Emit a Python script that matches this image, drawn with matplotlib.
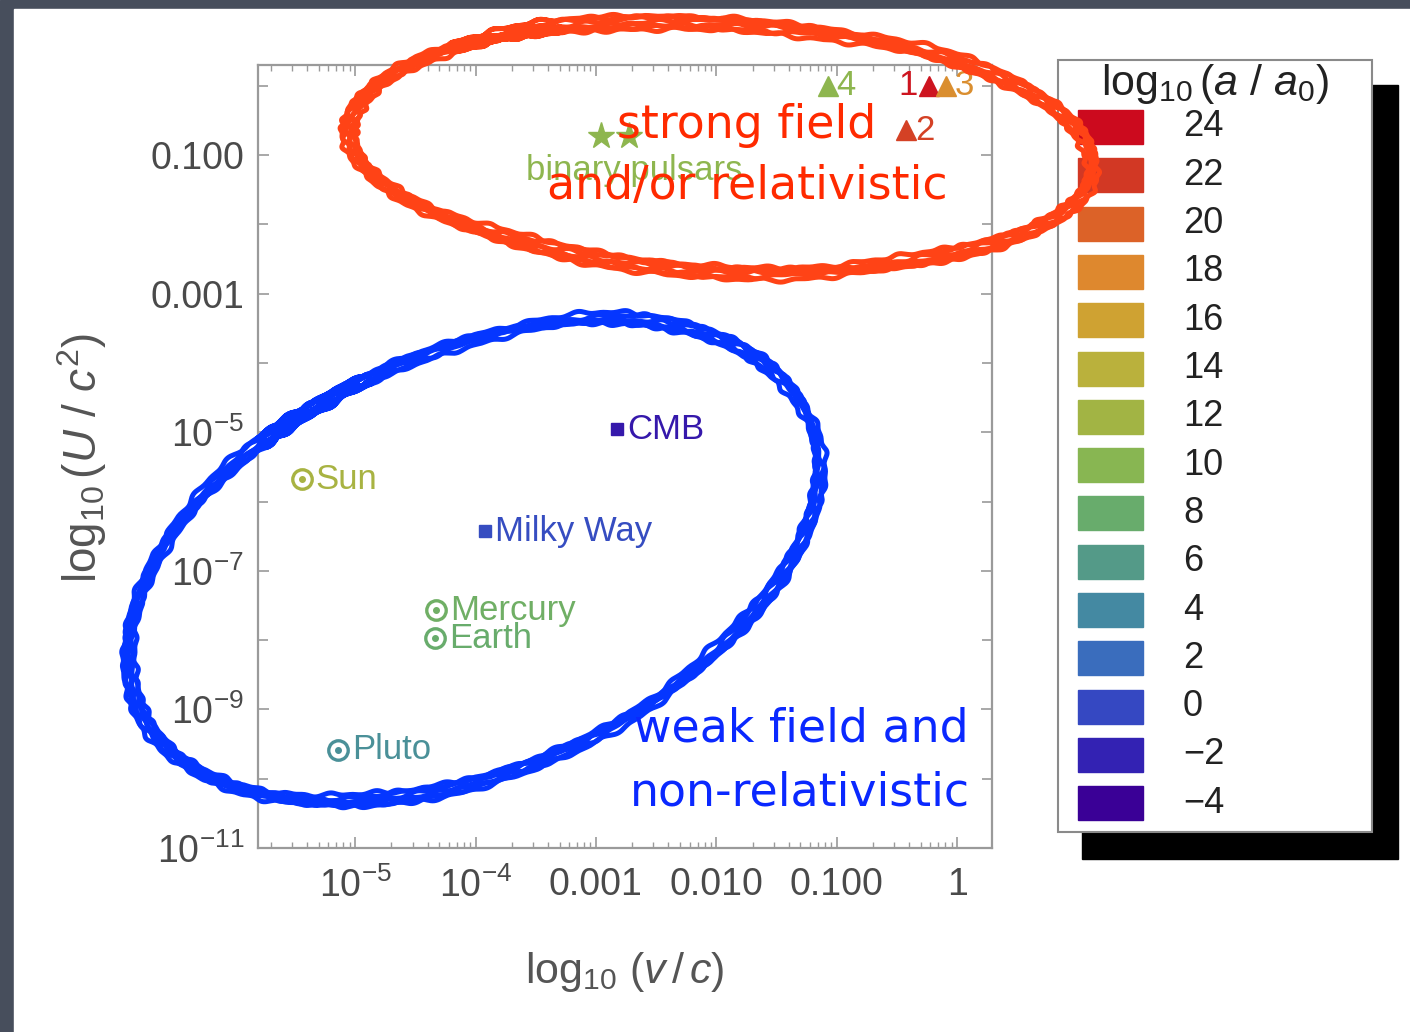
import numpy as np
import matplotlib
matplotlib.use("Agg")
import matplotlib.pyplot as plt
from matplotlib.colors import LinearSegmentedColormap, Normalize
from matplotlib.patches import Rectangle
from matplotlib.ticker import FixedLocator, LogLocator, NullFormatter

plt.rcParams['font.family'] = ['Liberation Sans', 'DejaVu Sans']
plt.rcParams['mathtext.fontset'] = 'custom'
plt.rcParams['mathtext.rm'] = 'Liberation Sans'
plt.rcParams['mathtext.it'] = 'Liberation Sans:italic'
plt.rcParams['mathtext.bf'] = 'Liberation Sans:bold'

W, H = 1410, 1032

# colour key: log10(a/a0)
key_levels = [24, 22, 20, 18, 16, 14, 12, 10, 8, 6, 4, 2, 0, -2, -4]
key_colors = ['#cc0a1e', '#d23824', '#dc6228', '#de882e', '#cfa232',
              '#bab13c', '#a2b444', '#88b652', '#68ac6c', '#549a88',
              '#4489a2', '#3a6dbd', '#3548c2', '#3322b3', '#3a0096']

# solar system bodies (circle-dot markers)
body_names = ['Sun', 'Mercury', 'Earth', 'Pluto']
body_v = [3.6e-6, 4.7e-5, 4.6e-5, 7.2e-6]
body_U = [2.1e-6, 2.7e-8, 1.07e-8, 2.6e-10]
body_loga = [12.5, 8.5, 8.0, 4.8]

# galaxy and cosmology (squares)
big_names = ['Milky Way', 'CMB']
big_v = [1.2e-4, 1.5e-3]
big_U = [3.7e-7, 1.1e-5]
big_loga = [0.3, -2.5]

# binary pulsars (stars)
pulsar_v = [1.1e-3, 1.9e-3]
pulsar_U = [0.19, 0.19]
pulsar_loga = [10.5, 10.5]

# numbered strong-field systems (triangles)
tri_labels = ['1', '2', '3', '4']
tri_v = [0.58, 0.38, 0.81, 0.084]
tri_U = [1.0, 0.23, 1.0, 1.0]
tri_loga = [23.5, 21.5, 17.5, 10.5]
tri_side = ['left', 'right', 'right', 'right']

x_ticks = [1e-5, 1e-4, 1e-3, 1e-2, 1e-1, 1]
x_ticklabels = [r'$10^{-5}$', r'$10^{-4}$', '0.001', '0.010', '0.100', '1']
y_ticks = [1e-11, 1e-9, 1e-7, 1e-5, 1e-3, 1e-1]
y_ticklabels = [r'$10^{-11}$', r'$10^{-9}$', r'$10^{-7}$', r'$10^{-5}$', '0.001', '0.100']
y_minor = [1e-10, 1e-8, 1e-6, 1e-4, 1e-2, 1]

cmap = LinearSegmentedColormap.from_list(
    'accel', list(zip(np.linspace(0, 1, len(key_colors)), key_colors[::-1])))
norm = Normalize(min(key_levels), max(key_levels))

fig = plt.figure(figsize=(W / 100, H / 100), dpi=100)

# page: dark slide border, white sheet, colour key box
page = fig.add_axes([0, 0, 1, 1], zorder=0)
page.set_xlim(0, W)
page.set_ylim(H, 0)
page.axis('off')
page.add_patch(Rectangle((0, 0), W, H, color='#474e5c'))
page.add_patch(Rectangle((14, 9), W - 14, H - 9, color='white'))

page.add_patch(Rectangle((1082, 85), 316, 774, color='black'))
page.add_patch(Rectangle((1058, 60), 314, 772, fc='white', ec='#8a8a8a', lw=1.5))
page.text(1215, 84, r'$\log_{10}(a\ /\ a_0)$', ha='center', va='center',
          fontsize=31, color='#222222')
for i, (lvl, c) in enumerate(zip(key_levels, key_colors)):
    yc = 127 + i * 48.3
    page.add_patch(Rectangle((1078, yc - 17), 65, 34, color=c))
    page.text(1183, yc, str(lvl).replace('-', '\u2212'), ha='left', va='center',
              fontsize=26, color='#222222')

page.text(82, 458, r'$\log_{10}(U\ /\ c^2)$', rotation=90, ha='center',
          va='center', fontsize=33, color='#555555')
page.text(625, 972, r'$\log_{10}\,(v\,/\,c)$', ha='center', va='center',
          fontsize=31, color='#555555')

# main plot
ax = fig.add_axes([258 / W, 1 - 848 / H, (992 - 258) / W, (848 - 65) / H], zorder=1)
ax.set_xscale('log')
ax.set_yscale('log')
ax.set_xlim(1.56e-6, 1.95)
ax.set_ylim(1e-11, 2.0)
for s in ax.spines.values():
    s.set_color('#9a9a9a')
    s.set_linewidth(1.6)

ax.set_xticks(x_ticks, x_ticklabels)
ax.xaxis.set_minor_locator(LogLocator(base=10, subs=np.arange(2, 10), numticks=50))
ax.xaxis.set_minor_formatter(NullFormatter())
ax.set_yticks(y_ticks, y_ticklabels)
ax.yaxis.set_minor_locator(FixedLocator(y_minor))
ax.yaxis.set_minor_formatter(NullFormatter())
ax.tick_params(which='both', direction='in', top=True, right=True,
               color='#9a9a9a', labelcolor='#4a4a4a', labelsize=27)
ax.tick_params(which='major', length=8, width=1.2)
ax.tick_params(axis='x', which='minor', length=4, width=1)
ax.tick_params(axis='y', which='minor', length=7, width=1.2)
ax.tick_params(axis='x', pad=14)
ax.tick_params(axis='y', pad=10)

lab = dict(textcoords='offset points', va='center', fontsize=25, annotation_clip=False)

for name, v, U, la in zip(body_names, body_v, body_U, body_loga):
    c = cmap(norm(la))
    ax.plot(v, U, 'o', ms=14, mfc='none', mec=c, mew=2.4, clip_on=False)
    ax.plot(v, U, 'o', ms=4, color=c, clip_on=False)
    ax.annotate(name, (v, U), xytext=(10, 0), ha='left', color=c, **lab)

for name, v, U, la in zip(big_names, big_v, big_U, big_loga):
    c = cmap(norm(la))
    ax.plot(v, U, 's', ms=9, color=c, clip_on=False)
    ax.annotate(name, (v, U), xytext=(7, 0), ha='left', color=c, **lab)

for v, U, la in zip(pulsar_v, pulsar_U, pulsar_loga):
    ax.plot(v, U, '*', ms=20, color=cmap(norm(la)), clip_on=False)
ax.annotate('binary pulsars', (np.sqrt(pulsar_v[0] * pulsar_v[1]), pulsar_U[0]),
            xytext=(14, -25), ha='center', color=cmap(norm(pulsar_loga[0])), **lab)

for name, v, U, la, side in zip(tri_labels, tri_v, tri_U, tri_loga, tri_side):
    c = cmap(norm(la))
    ax.plot(v, U, '^', ms=14, color=c, clip_on=False)
    if side == 'left':
        ax.annotate(name, (v, U), xytext=(-8, 0), ha='right', color=c, **lab)
    else:
        ax.annotate(name, (v, U), xytext=(6, 0), ha='left', color=c, **lab)

# hand-drawn annotations on top
ink = fig.add_axes([0, 0, 1, 1], zorder=2)
ink.set_xlim(0, W)
ink.set_ylim(H, 0)
ink.axis('off')
ink.patch.set_alpha(0)


def scribble(cx, cy, a, b, phi_deg, color, t0, half=6.0):
    # a thick marker-pen loop: several close strokes with a rough edge
    phi = np.radians(phi_deg)
    t = np.linspace(t0, t0 + 2 * np.pi + 0.35, 1400)
    for k, off in enumerate(np.linspace(-half, half, 7)):
        wob = (off + 2.0 * np.sin(5 * t + k) + 1.2 * np.sin(11 * t + 2 * k)
               + 1.3 * np.sin(47 * t + 3 * k) + 0.9 * np.sin(83 * t + 5 * k))
        aa = a + wob
        bb = b + wob
        x = cx + aa * np.cos(t) * np.cos(phi) - bb * np.sin(t) * np.sin(phi)
        y = cy + aa * np.cos(t) * np.sin(phi) + bb * np.sin(t) * np.cos(phi)
        ink.plot(x, y, color=color, lw=3.6, solid_capstyle='round')


scribble(721, 147, 372, 124, 3, '#ff4316', 3.9, half=6.0)
scribble(473, 561, 365, 210, -23.4, '#0536ff', 4.3, half=5.0)

hand = dict(ha='center', va='baseline', fontsize=33, family='DejaVu Sans')
ink.text(747, 138, 'strong field', color='#ff2a00', **hand)
ink.text(747, 199, 'and/or relativistic', color='#ff2a00', **hand)
ink.text(801, 742, 'weak field and', color='#0a28ff', **hand)
ink.text(800, 806, 'non-relativistic', color='#0a28ff', **hand)

fig.savefig('out.png', dpi=100)
